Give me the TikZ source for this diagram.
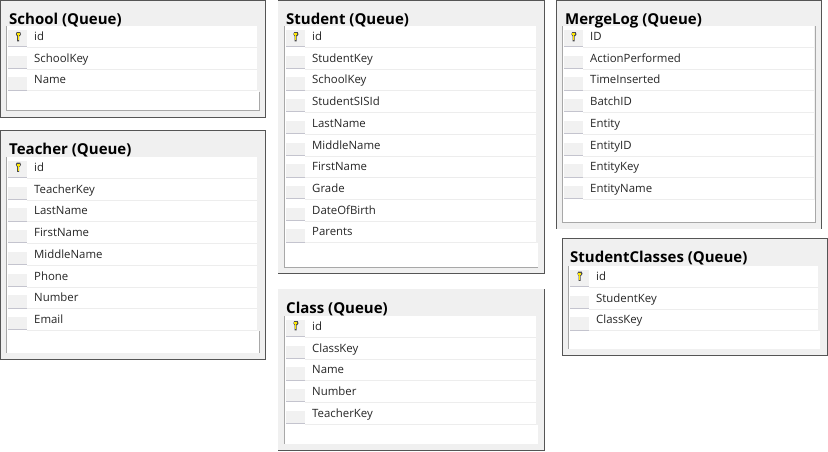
\documentclass[tikz,border=0pt]{standalone}
\usepackage{fontspec}
\setmainfont{Open Sans}
\definecolor{panelbg}{HTML}{F0F0F0}
\definecolor{darkline}{HTML}{555555}
\definecolor{gridline}{HTML}{A8A8A8}
\definecolor{rowline}{HTML}{EDEDED}
\definecolor{selbg}{HTML}{F1F1F1}
\definecolor{selline}{HTML}{C4C4CE}
\tikzset{
  paneltitle/.style={anchor=base west,inner sep=0pt,font=\bfseries\fontsize{15}{17}\selectfont,text=black},
  fieldtext/.style={anchor=base west,inner sep=0pt,font=\fontsize{11.4}{13}\selectfont,text=black!85},
  darkedge/.style={draw=darkline,line width=1pt},
  gridedge/.style={draw=gridline,line width=1pt},
}
% #1 name, #2 panel x0,y0,x1,y1  #3 grid x0,y0,x1,y1  #4 title x,baseline y #5 title #6 fields
\newcommand{\qpanel}[6]{%
  \def\doPanel(##1,##2,##3,##4)(##5,##6,##7,##8){%
    \fill[panelbg] (##1,##2) rectangle (##3,##4);
    \fill[white] (##5,##6) rectangle ({##7-2},##8);
    \node[paneltitle] (#1title) at (#4) {#5};
    \foreach \fname [count=\ri from 0] in {#6} {
      \pgfmathsetmacro{\ytop}{##6+21.7*\ri}
      \fill[selbg] ({##5+1},{\ytop+(\ri==0?4:8)}) rectangle ({##5+20},{\ytop+20.5});
      \draw[selline,line width=0.7pt] ({##5+1},{\ytop+20.7}) -- ({##5+20},{\ytop+20.7});
      \draw[rowline,line width=1pt] ({##5+20},{\ytop+21.5}) -- ({##7-2},{\ytop+21.5});
      \node[fieldtext] (#1f\ri) at ({##5+27},{\ytop+14.5}) {\fname};
      \xdef\lastrow{\ytop}
    }
    \fill[white] ({##7-3},{\lastrow+22}) rectangle (##7,##8);
  }%
  \doPanel(#2)(#3)%
}
\newcommand{\qkey}[2]{%
  \begin{scope}[shift={(#1,#2)}]
    \fill[black!70] (-1.3,-5) -- (2.2,-5) -- (3,-2.8) -- (1.8,-0.8) -- (1.2,-0.8) -- (1.2,4.4) -- (-1,4.4) -- (-1,-0.8) -- (-2.1,-2.8) -- cycle;
    \fill[yellow!90!orange] (-1.2,-4) rectangle (1.8,-1.7);
    \fill[yellow!90!orange] (-0.3,-1.7) rectangle (0.6,3.4);
  \end{scope}%
}
\begin{document}
\begin{tikzpicture}[x=1pt,y=-1pt]
\useasboundingbox (0,0) rectangle (828,451);
\fill[white] (0,0) rectangle (828,451);

\qpanel{school}{0,0,265.5,117}{7,26,259,110}{9,24}{School (Queue)}{id,SchoolKey,Name}
\draw[gridedge] (6.5,26) -- (6.5,110) -- (259.5,110) -- (259.5,92);
\draw[darkedge] (0.5,117) -- (0.5,0.5) -- (265.5,0.5) -- (265.5,117) -- (0,117);

\qpanel{teacher}{0,130,265.5,359}{7,157,259,353}{9,154.5}{Teacher (Queue)}{id,TeacherKey,LastName,FirstName,MiddleName,Phone,Number,Email}
\draw[gridedge] (6.5,157) -- (6.5,353);
\draw[gridedge] (259.5,331) -- (259.5,353);
\draw[darkedge] (0.5,359) -- (0.5,130.5) -- (265.5,130.5) -- (265.5,359) -- (0,359);

\qpanel{student}{278,0,544.5,273.5}{285,26,538,267}{286,24}{Student (Queue)}{id,StudentKey,SchoolKey,StudentSISId,LastName,MiddleName,FirstName,Grade,DateOfBirth,Parents}
\draw[gridedge] (284.5,26) -- (284.5,267) -- (538,267);
\draw[darkedge] (278,0.5) -- (544.5,0.5) -- (544.5,273.5) -- (278,273.5);

\qpanel{class}{278,289,544.5,451}{285,316,538,444}{286,313}{Class (Queue)}{id,ClassKey,Name,Number,TeacherKey}
\draw[gridedge] (284.5,316) -- (284.5,444);
\draw[darkedge] (544.5,289) -- (544.5,450.5) -- (278,450.5);

\qpanel{mergelog}{556,0,821.5,228.5}{563,26,816,222}{565,24}{MergeLog (Queue)}{ID,ActionPerformed,TimeInserted,BatchID,Entity,EntityID,EntityKey,EntityName}
\draw[gridedge] (562.5,26) -- (562.5,222) -- (815.5,222) -- (815.5,26);
\draw[darkedge] (556.5,228.5) -- (556.5,0.5) -- (821.5,0.5) -- (821.5,228.5);

\qpanel{studentclasses}{561.5,238,827.5,355.5}{569,266,820,349}{570,262.5}{StudentClasses (Queue)}{id,StudentKey,ClassKey}
\draw[gridedge] (568.5,266) -- (568.5,349);
\draw[darkedge] (562,238.5) rectangle (827.5,355.5);

\qkey{18}{37}
\qkey{18}{167.5}
\qkey{295.5}{37}
\qkey{295.5}{326}
\qkey{573.5}{37}
\qkey{579.5}{276.5}
\end{tikzpicture}
\end{document}
